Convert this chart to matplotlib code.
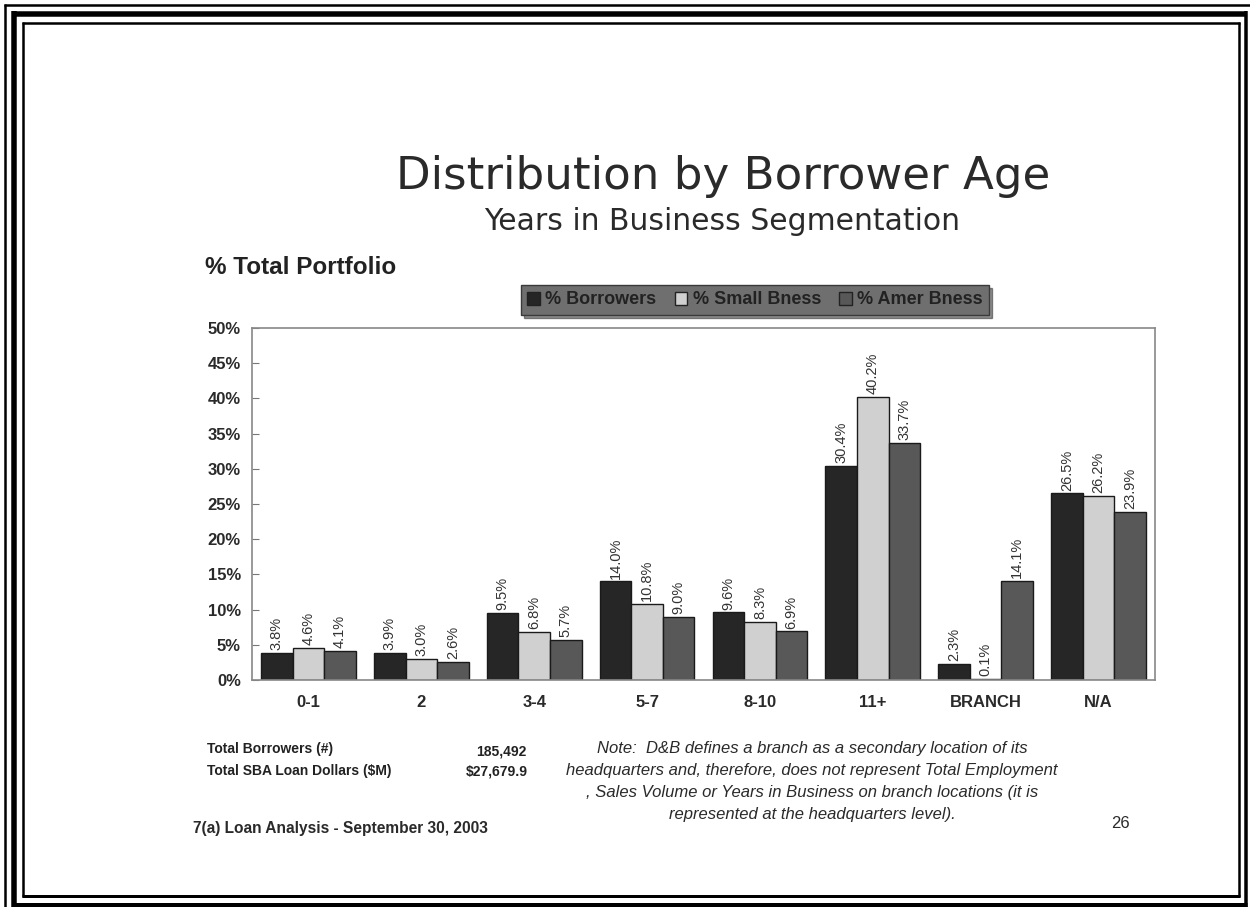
import matplotlib
matplotlib.use("Agg")
import matplotlib.pyplot as plt
from matplotlib.lines import Line2D
from matplotlib.patches import Patch
import numpy as np

categories = ["0-1", "2", "3-4", "5-7", "8-10", "11+", "BRANCH", "N/A"]
borrowers = [3.8, 3.9, 9.5, 14.0, 9.6, 30.4, 2.3, 26.5]
small_bness = [4.6, 3.0, 6.8, 10.8, 8.3, 40.2, 0.1, 26.2]
amer_bness = [4.1, 2.6, 5.7, 9.0, 6.9, 33.7, 14.1, 23.9]
series_names = ["% Borrowers", "% Small Bness", "% Amer Bness"]
yticks = [0, 5, 10, 15, 20, 25, 30, 35, 40, 45, 50]

W, H = 1250, 907
fig = plt.figure(figsize=(W / 100, H / 100), dpi=100)
fig.patch.set_facecolor("white")

def fx(x):
    return x / W

def fy(y):
    return 1 - y / H

def px2pt(p):
    return p * 72 / 100

# frame lines
def hline(y, x0, x1, w):
    fig.add_artist(Line2D([fx(x0), fx(x1)], [fy(y), fy(y)], color="black",
                          lw=px2pt(w), solid_capstyle="butt", transform=fig.transFigure))

def vline(x, y0, y1, w):
    fig.add_artist(Line2D([fx(x), fx(x)], [fy(y0), fy(y1)], color="black",
                          lw=px2pt(w), solid_capstyle="butt", transform=fig.transFigure))

# outer thin
hline(5, 4, W, 2.5)
vline(5, 4, H, 2.5)
# thick
hline(13.5, 12, 1247, 5.5)
vline(14.5, 11, H, 5.5)
vline(1245.5, 11, H, 3.5)
hline(904.5, 12, 1247, 5)
# inner thin
hline(23, 22, 1240, 2.5)
vline(23, 22, 897, 2.5)
vline(1239, 22, 897, 2.5)
hline(895.5, 22, 1240, 3)

sans = ["Liberation Sans", "DejaVu Sans"]

# titles
fig.text(fx(723), fy(176), "Distribution by Borrower Age", ha="center", va="center",
         fontsize=32.5, color="#2a2a2a", family=["DejaVu Sans"])
fig.text(fx(722), fy(222), "Years in Business Segmentation", ha="center", va="center",
         fontsize=21.5, color="#2a2a2a", family=["DejaVu Sans"])
fig.text(fx(205), fy(268), "% Total Portfolio", ha="left", va="center",
         fontsize=17.5, fontweight="bold", color="#222222", family=sans)

# axes
ax = fig.add_axes([fx(252), fy(680), fx(1155) - fx(252), fy(328) - fy(680)])
x = np.arange(len(categories))
bw = 0.28
colors = ["#262626", "#d0d0d0", "#585858"]
data = [borrowers, small_bness, amer_bness]
for i, (vals, c) in enumerate(zip(data, colors)):
    bars = ax.bar(x + (i - 1) * bw, vals, bw, color=c, edgecolor="#1a1a1a", linewidth=1.0)
    for b, v in zip(bars, vals):
        ax.text(b.get_x() + b.get_width() / 2, v + 0.4, f"{v:.1f}%", rotation=90,
                ha="center", va="bottom", fontsize=10.5, color="#333333", family=sans)

ax.set_xlim(-0.5, len(categories) - 0.5)
ax.set_ylim(0, 50)
ax.set_yticks(yticks)
ax.set_yticklabels([f"{t}%" for t in yticks], fontsize=12, fontweight="bold",
                   color="#2a2a2a", family=sans)
ax.set_xticks(x)
ax.set_xticklabels(categories, fontsize=12, fontweight="bold", color="#2a2a2a", family=sans)
ax.tick_params(axis="x", length=0, pad=11)
ax.tick_params(axis="y", direction="in", length=5, color="#777777", pad=8)
for s in ax.spines.values():
    s.set_color("#888888")
    s.set_linewidth(1.2)

# legend
handles = [Patch(facecolor=c, edgecolor="#222222") for c in colors]
leg = fig.legend(handles, series_names, loc="center", bbox_to_anchor=(fx(755), fy(300)),
                 ncol=3, frameon=True, fancybox=False, shadow=True, facecolor="#6f6f6f",
                 edgecolor="#3a3a3a", handlelength=0.7, handleheight=0.7, handletextpad=0.3,
                 columnspacing=1.0, borderpad=0.35,
                 prop={"family": sans, "weight": "bold", "size": 13})
for t in leg.get_texts():
    t.set_color("#222222")
leg.get_frame().set_alpha(1.0)

# footer texts
fs = 10
fig.text(fx(207), fy(749), "Total Borrowers (#)", ha="left", va="center", fontsize=fs,
         fontweight="bold", color="#222222", family=sans)
fig.text(fx(207), fy(771), "Total SBA Loan Dollars ($M)", ha="left", va="center", fontsize=fs,
         fontweight="bold", color="#222222", family=sans)
fig.text(fx(526), fy(751), "185,492", ha="right", va="center", fontsize=fs,
         fontweight="bold", color="#222222", family=sans)
fig.text(fx(528), fy(771), "$27,679.9", ha="right", va="center", fontsize=fs,
         fontweight="bold", color="#222222", family=sans)

note_lines = ["Note:  D&B defines a branch as a secondary location of its",
              "headquarters and, therefore, does not represent Total Employment",
              ", Sales Volume or Years in Business on branch locations (it is",
              "represented at the headquarters level)."]
for i, line in enumerate(note_lines):
    fig.text(fx(812), fy(749 + 22 * i), line, ha="center", va="center", fontsize=12,
             style="italic", color="#2a2a2a", family=sans)

fig.text(fx(193), fy(829), "7(a) Loan Analysis - September 30, 2003", ha="left", va="center",
         fontsize=11.2, fontweight="bold", color="#2a2a2a", family=sans)
fig.text(fx(1120), fy(823), "26", ha="center", va="center", fontsize=12,
         color="#2a2a2a", family=sans)

fig.savefig("out.png", dpi=100, facecolor="white")
